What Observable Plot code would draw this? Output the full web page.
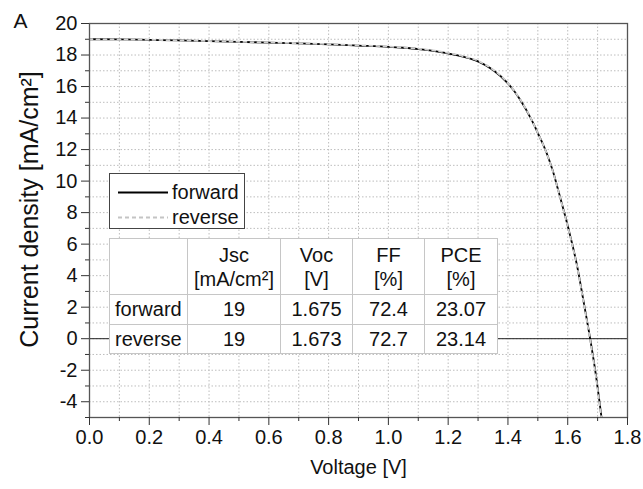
<!DOCTYPE html>
<html>
<head>
<meta charset="utf-8">
<script src="https://cdn.jsdelivr.net/npm/d3@7"></script>
<script src="https://cdn.jsdelivr.net/npm/@observablehq/plot@0.6"></script>
<style>
  html, body { margin: 0; padding: 0; background: #fff; }
  #wrap { position: relative; width: 643px; height: 489px; font-family: "Liberation Sans", Arial, sans-serif; color: #111; }
  #legend { position: absolute; left: 109px; top: 173px; width: 136px; height: 56px; border: 1.2px solid #444; background: #fff; box-sizing: border-box; font-size: 20px; }
  #legend .row { position: absolute; left: 0; height: 26px; line-height: 26px; }
  #legend svg { position: absolute; left: 8px; top: 0; }
  #legend span { position: absolute; left: 62px; top: 0; white-space: nowrap; }
  #tbl { position: absolute; left: 109px; top: 238px; border-collapse: collapse; table-layout: fixed; background: #fff; font-size: 20px; border: 1.2px solid #8a8a8a; }
  #tbl td { border: 1px solid #c6c6c6; padding: 0; text-align: center; white-space: nowrap; }
  #tbl td.lab { text-align: left; padding-left: 5px; }
  #tbl tr.head td { height: 55px; line-height: 24px; }
  #tbl tr.r1 td { height: 29px; }
  #tbl tr.r2 td { height: 28px; }
</style>
</head>
<body>
<div id="wrap"></div>
<script>
// ---- data ----
const voltage  = [0, 0.1, 0.2, 0.3, 0.4, 0.5, 0.6, 0.7, 0.8, 0.9, 1.0, 1.05, 1.1, 1.15, 1.2, 1.25, 1.3, 1.35, 1.4, 1.44, 1.48, 1.5, 1.53, 1.55, 1.57, 1.59, 1.61, 1.63, 1.655, 1.675, 1.695, 1.713];
const jForward = [19.0, 18.99, 18.96, 18.93, 18.88, 18.83, 18.79, 18.74, 18.68, 18.6, 18.52, 18.46, 18.38, 18.26, 18.1, 17.9, 17.6, 17.05, 16.2, 15.2, 13.85, 13.05, 11.75, 10.65, 9.3, 7.9, 6.4, 4.75, 2.15, 0.0, -2.4, -5.0];
const jReverse = [19.0, 18.99, 18.97, 18.93, 18.89, 18.84, 18.8, 18.75, 18.69, 18.62, 18.54, 18.48, 18.4, 18.29, 18.13, 17.93, 17.63, 17.08, 16.22, 15.21, 13.86, 13.05, 11.74, 10.63, 9.27, 7.86, 6.35, 4.7, 2.08, -0.07, -2.5, -5.1];
const xTicks = [0, 0.2, 0.4, 0.6, 0.8, 1.0, 1.2, 1.4, 1.6, 1.8];
const xMinor = [0.1, 0.3, 0.5, 0.7, 0.9, 1.1, 1.3, 1.5, 1.7];
const yTicks = [-4, -2, 0, 2, 4, 6, 8, 10, 12, 14, 16, 18, 20];
const yMinor = [-5, -3, -1, 1, 3, 5, 7, 9, 11, 13, 15, 17, 19];
const seriesNames = ["forward", "reverse"];
const headerNames = ["Jsc", "Voc", "FF", "PCE"];
const headerUnits = ["[mA/cm²]", "[V]", "[%]", "[%]"];
const jscVals = ["19", "19"];
const vocVals = ["1.675", "1.673"];
const ffVals  = ["72.4", "72.7"];
const pceVals = ["23.07", "23.14"];
const xTitle = "Voltage [V]";
const yTitle = "Current density [mA/cm²]";
const panelLabel = "A";

// ---- build ----
const fwd = voltage.map((v, i) => ({v, j: jForward[i]}));
const rev = voltage.map((v, i) => ({v, j: jReverse[i]}));
const xGrid = d3.range(0, 19).map(i => +(i / 10).toFixed(1));
const yGrid = d3.range(-5, 21);

const chart = Plot.plot({
  width: 643, height: 489,
  marginLeft: 89, marginRight: 16, marginTop: 23, marginBottom: 72,
  x: {domain: [0, 1.8]},
  y: {domain: [-5, 20]},
  style: {fontFamily: "'Liberation Sans', Arial, sans-serif", fontSize: "20px", background: "white", color: "#111", overflow: "visible"},
  marks: [
    Plot.gridX(xGrid, {stroke: "#bdbdbd", strokeOpacity: 1, strokeDasharray: "1.5,2", strokeWidth: 1}),
    Plot.gridY(yGrid, {stroke: "#bdbdbd", strokeOpacity: 1, strokeDasharray: "1.5,2", strokeWidth: 1}),
    Plot.ruleY([0], {stroke: "#222", strokeWidth: 1}),
    Plot.line(fwd, {x: "v", y: "j", stroke: "#000", strokeWidth: 1.8, curve: "monotone-x", clip: true}),
    Plot.line(rev, {x: "v", y: "j", stroke: "#cfcfcf", strokeWidth: 1.8, strokeDasharray: "3,4", curve: "monotone-x", clip: true}),
    Plot.frame({stroke: "#555", strokeWidth: 1.3}),
    Plot.axisX(xTicks, {tickSize: 8, tickPadding: 4, tickFormat: d => d.toFixed(1), fontSize: 20, label: null, stroke: "#333"}),
    Plot.axisX(xMinor, {tickSize: 4, tickFormat: () => "", label: null, stroke: "#333"}),
    Plot.axisY(yTicks, {tickSize: 8, tickPadding: 4, tickFormat: d => String(d), fontSize: 20, label: null, stroke: "#333"}),
    Plot.axisY(yMinor, {tickSize: 4, tickFormat: () => "", label: null, stroke: "#333"}),
    Plot.text([xTitle], {frameAnchor: "bottom", dy: 50, text: d => d, lineAnchor: "middle", fontSize: 20}),
    Plot.text([yTitle], {frameAnchor: "left", dx: -52, dy: -11, text: d => d, rotate: -90, textAnchor: "middle", lineAnchor: "bottom", fontSize: 25}),
    Plot.text([panelLabel], {frameAnchor: "top-left", dx: -69, dy: -2, text: d => d, textAnchor: "middle", lineAnchor: "middle", fontSize: 21})
  ]
});

const wrap = document.getElementById("wrap");
wrap.appendChild(chart);

// legend
const legend = document.createElement("div");
legend.id = "legend";
const swatch = [
  {stroke: "#000", dash: null},
  {stroke: "#c4c4c4", dash: "4,3"}
];
seriesNames.forEach((name, i) => {
  const row = document.createElement("div");
  row.className = "row";
  row.style.top = (5 + i * 25) + "px";
  row.innerHTML = `<svg width="52" height="26"><line x1="0" x2="50" y1="13.5" y2="13.5" stroke="${swatch[i].stroke}" stroke-width="1.8" ${swatch[i].dash ? `stroke-dasharray="${swatch[i].dash}"` : ""}/></svg><span>${name}</span>`;
  legend.appendChild(row);
});
wrap.appendChild(legend);

// table
const colW = [78, 93, 72, 72, 73];
const tbl = document.createElement("table");
tbl.id = "tbl";
let html = "<colgroup>" + colW.map(w => `<col style="width:${w}px">`).join("") + "</colgroup>";
html += `<tr class="head"><td></td>` + headerNames.map((h, k) => `<td>${h}<br>${headerUnits[k]}</td>`).join("") + "</tr>";
seriesNames.forEach((name, i) => {
  html += `<tr class="r${i + 1}"><td class="lab">${name}</td><td>${jscVals[i]}</td><td>${vocVals[i]}</td><td>${ffVals[i]}</td><td>${pceVals[i]}</td></tr>`;
});
tbl.innerHTML = html;
tbl.style.width = d3.sum(colW) + "px";
wrap.appendChild(tbl);
</script>
</body>
</html>
